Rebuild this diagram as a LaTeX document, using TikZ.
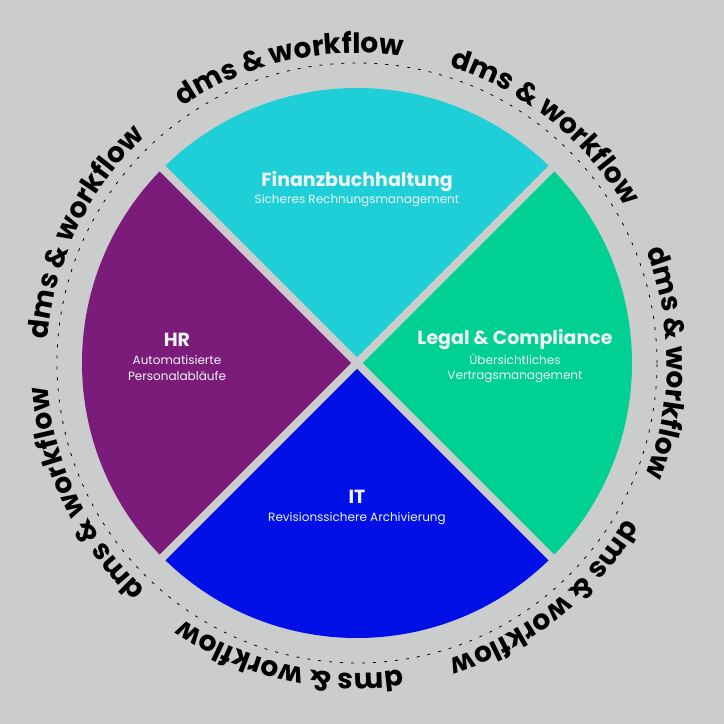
\documentclass[tikz,border=0pt]{standalone}
\usepackage{fontspec}
\setmainfont{Poppins}
\usetikzlibrary{decorations.text}
\definecolor{bgcolor}{HTML}{CBCDCC}
\definecolor{fincolor}{HTML}{1FCFD7}
\definecolor{legalcolor}{HTML}{00D092}
\definecolor{itcolor}{HTML}{0010E6}
\definecolor{hrcolor}{HTML}{7B1C7A}
\definecolor{txtcolor}{HTML}{EEF4F4}
\tikzset{
  title/.style={text=txtcolor,font=\fontsize{9.5}{12}\selectfont\bfseries,inner sep=0pt},
  sub/.style={text=txtcolor,font=\fontsize{6}{7.6}\selectfont,align=center,inner sep=0pt},
  ringtext/.style={decorate,decoration={text along path,text align=center,
    text={|\fontsize{14}{14}\selectfont\bfseries|dms {\&} workflow}}}
}
\begin{document}
\begin{tikzpicture}[x=0.5pt,y=0.5pt]
  \fill[bgcolor] (-357,-361) rectangle (367,363);
  \useasboundingbox (-357,-361) rectangle (367,363);
  \coordinate (c) at (0,0);
  % quadrants
  \fill[fincolor] (c) -- (45:275) arc[start angle=45,end angle=135,radius=275] -- cycle;
  \fill[hrcolor] (c) -- (135:275) arc[start angle=135,end angle=225,radius=275] -- cycle;
  \fill[itcolor] (c) -- (225:275) arc[start angle=225,end angle=315,radius=275] -- cycle;
  \fill[legalcolor] (c) -- (-45:275) arc[start angle=-45,end angle=45,radius=275] -- cycle;
  \draw[bgcolor,line width=4pt] (45:285) -- (225:285);
  \draw[bgcolor,line width=4pt] (135:285) -- (-45:285);
  % dotted ring
  \draw[black,line width=0.4pt,dash pattern=on 1.5pt off 4pt] (c) circle[radius=300];
  % ring text
  \foreach \k in {0,...,6}{
    \pgfmathsetmacro{\a}{\k*360/7}
    \path[ringtext] (c) ++(\a+34:310) arc[start angle=\a+34,end angle=\a-34,radius=310];
  }
  % labels
  \node[title] (fin) at (0,181) {Finanzbuchhaltung};
  \node[sub] (finsub) at (0,162) {Sicheres Rechnungsmanagement};
  \node[title] (hr) at (-180,23) {HR};
  \node[sub] (hrsub) at (-180,-5) {Automatisierte\\Personalabläufe};
  \node[title] (legal) at (158,23) {Legal \& Compliance};
  \node[sub] (legalsub) at (158,-5) {Übersichtliches\\Vertragsmanagement};
  \node[title] (it) at (0,-134) {IT};
  \node[sub] (itsub) at (0,-156) {Revisionssichere Archivierung};
\end{tikzpicture}
\end{document}
